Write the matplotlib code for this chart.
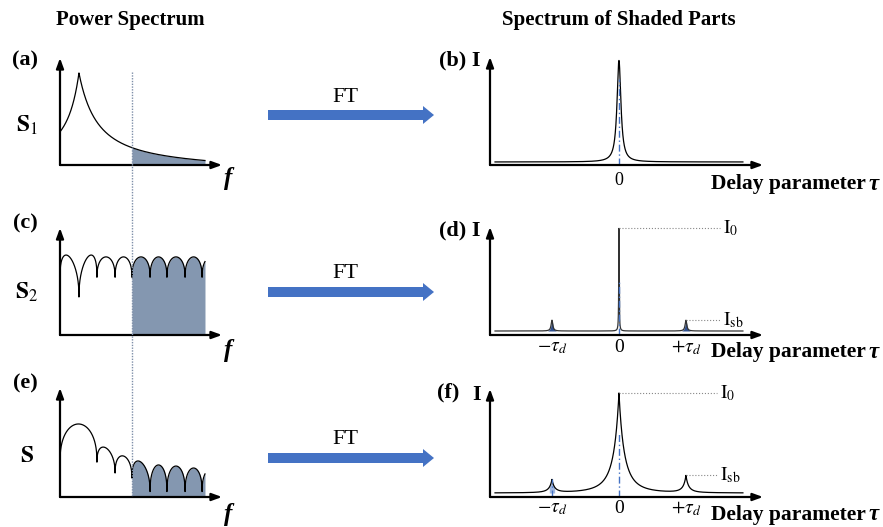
import numpy as np
import matplotlib.pyplot as plt

plt.rcParams['font.family'] = 'Liberation Serif'
plt.rcParams['mathtext.fontset'] = 'stix'

W, H = 883, 527

# ---- left column: power spectra (f in units of the x-axis length) ----
cut_f = 0.444          # start of the shaded part
end_f = 0.895          # where the drawn spectra stop

# (a) S1: one sharp peak with a slow tail
s1_peak_f = 0.117
s1_peak_h = 0.86
s1_width = [0.12, 0.17]   # left, right
s1_drop = 0.03            # extra fall-off towards the end

# (c) S2: row of arches, one deep dip
s2_dips_f = [0, 0.117, 0.228, 0.340, 0.444, 0.556, 0.660, 0.772, 0.877, 0.99]
s2_dips_v = [0.54, 0.355, 0.54, 0.54, 0.54, 0.54, 0.54, 0.54, 0.54, 0.54]
s2_tops = [0.73] * 9

# (e) S: decaying arches
s_dips_f = [0, 0.228, 0.340, 0.444, 0.556, 0.660, 0.772, 0.877, 0.99]
s_dips_v = [0.32, 0.32, 0.22, 0.174, 0.05, 0.05, 0.05, 0.05, 0.05]
s_tops = [0.67, 0.45, 0.376, 0.32, 0.294, 0.284, 0.266, 0.26]

# ---- right column: spectra of the shaded parts (tau in units of tau_d) ----
tau_d = 1.0
b_base, b_peak, b_width = 0.028, 0.94, 0.035
d_base, d_peak, d_side, d_width, d_side_width = 0.037, 0.95, 0.10, 0.004, 0.015
f_base, f_peak, f_width = 0.037, 0.926, 0.23
f_side = [0.12, 0.157]          # at -tau_d, +tau_d
f_side_width = 0.11

shade = '#8497B0'
blue = '#4472C4'


def arches(f, dips_f, dips_v, tops):
    y = np.full_like(f, np.nan)
    for i in range(len(dips_f) - 1):
        f0, f1 = dips_f[i], dips_f[i + 1]
        m = (f >= f0) & (f <= f1)
        t = (f[m] - f0) / (f1 - f0)
        lin = dips_v[i] + (dips_v[i + 1] - dips_v[i]) * t
        amp = tops[i] - (dips_v[i] + dips_v[i + 1]) / 2
        y[m] = lin + amp * np.clip(1 - (2 * t - 1) ** 2, 0, None) ** 0.42
    return y


def lor(x, x0, w):
    return w ** 2 / (w ** 2 + (x - x0) ** 2)


def cusp(x, x0, w):
    return 1 / (1 + np.abs(x - x0) / w) ** 3


def panel(x0, x1, y_top, y_bot):
    ax = fig.add_axes([x0 / W, 1 - y_bot / H, (x1 - x0) / W, (y_bot - y_top) / H])
    ax.set_axis_off()
    ap = dict(arrowstyle='-|>,head_width=0.22,head_length=0.6', lw=1.6,
              color='k', shrinkA=0, shrinkB=0)
    ax.annotate('', xy=(1, 0), xytext=(0, 0), xycoords='axes fraction', arrowprops=ap)
    ax.annotate('', xy=(0, 1), xytext=(0, 0), xycoords='axes fraction', arrowprops=ap)
    ax.set_ylim(0, 1)
    return ax


fig = plt.figure(figsize=(W / 100, H / 100), dpi=100)

f = np.union1d(np.linspace(0, end_f, 3000), s2_dips_f)
f = f[f <= end_f]
sh = f >= cut_f

# (a)
ax = panel(60, 222, 58, 165)
ax.set_xlim(0, 1)
df = f - s1_peak_f
w = np.where(df < 0, s1_width[0], s1_width[1])
s1 = s1_peak_h / (1 + np.abs(df) / w) ** 1.5 - s1_drop * np.clip(df, 0, None)
ax.fill_between(f[sh], 0, s1[sh], color=shade, lw=0)
ax.plot(f, s1, color='k', lw=0.9)

# (c)
ax = panel(60, 222, 228, 335)
ax.set_xlim(0, 1)
s2 = arches(f, s2_dips_f, s2_dips_v, s2_tops)
ax.fill_between(f[sh], 0, s2[sh], color=shade, lw=0)
ax.plot(f, s2, color='k', lw=0.9)

# (e)
ax = panel(60, 222, 388, 497)
ax.set_xlim(0, 1)
s = arches(f, s_dips_f, s_dips_v, s_tops)
ax.fill_between(f[sh], 0, s[sh], color=shade, lw=0)
ax.plot(f, s, color='k', lw=0.9)

# right column
tau = np.linspace(-1.85, 1.85, 40001)
xl = (-1.925, 2.15)
dashdot = (0, (5, 2, 1, 2))

# (b)
ax = panel(490, 763, 57, 165)
ax.set_xlim(*xl)
ib = b_base + b_peak * lor(tau, 0, b_width)
ax.plot(tau, ib, color='k', lw=0.9)
ax.plot([0, 0], [0, 0.8], color=blue, lw=1, ls=dashdot)
ax.text(0, -0.14, '0', transform=ax.get_xaxis_transform(), ha='center', va='center', fontsize=13)

# (d)
ax = panel(490, 763, 227, 335)
ax.set_xlim(*xl)
idd = (d_base + d_peak * lor(tau, 0, d_width)
       + d_side * lor(tau, -tau_d, d_side_width) + d_side * lor(tau, tau_d, d_side_width))
for c in (-tau_d, tau_d):
    m = np.abs(tau - c) < 0.06
    ax.fill_between(tau[m], d_base, idd[m], color='#2F4F8F', lw=0)
ax.plot(tau, idd, color='#333333', lw=0.9)
ax.plot([0, 0], [0, 0.5], color=blue, lw=1, ls=dashdot)
top = idd.max()
side = d_base + d_side
ax.plot([0, 1.51], [top, top], color='#888888', lw=0.8, ls=':')
ax.plot([tau_d, 1.51], [side, side], color='#888888', lw=0.8, ls=':')
ax.text(1.56, top, r'$\mathrm{I}_0$', ha='left', va='center', fontsize=14)
ax.text(1.56, side, r'$\mathrm{I}_{\mathrm{sb}}$', ha='left', va='center', fontsize=14)
for x, lab in [(-tau_d, r'$-\tau_d$'), (0, '0'), (tau_d, r'$+\tau_d$')]:
    ax.text(x, -0.12, lab, transform=ax.get_xaxis_transform(), ha='center', va='center', fontsize=14)

# (f)
ax = panel(490, 763, 389, 497)
ax.set_xlim(*xl)
iff = (f_base + f_peak * cusp(tau, 0, f_width)
       + f_side[0] * cusp(tau, -tau_d, f_side_width) + f_side[1] * cusp(tau, tau_d, f_side_width))
m = np.abs(tau + tau_d) < 0.04
ax.fill_between(tau[m], f_base, iff[m], color=blue, alpha=0.5, lw=0)
ax.plot(tau, iff, color='k', lw=0.9)
ax.plot([0, 0], [0, 0.6], color=blue, lw=1, ls=dashdot)
ax.plot([-tau_d, -tau_d], [0, iff[np.argmin(np.abs(tau + tau_d))]], color=blue, lw=1, ls=dashdot)
top = iff.max()
side = iff[np.argmin(np.abs(tau - tau_d))]
ax.plot([0, 1.46], [top, top], color='#888888', lw=0.8, ls=':')
ax.plot([tau_d, 1.46], [side, side], color='#888888', lw=0.8, ls=':')
ax.text(1.51, top, r'$\mathrm{I}_0$', ha='left', va='center', fontsize=14)
ax.text(1.51, side, r'$\mathrm{I}_{\mathrm{sb}}$', ha='left', va='center', fontsize=14)
for x, lab in [(-tau_d, r'$-\tau_d$'), (0, '0'), (tau_d, r'$+\tau_d$')]:
    ax.text(x, -0.11, lab, transform=ax.get_xaxis_transform(), ha='center', va='center', fontsize=14)

# overlay in pixel coordinates: titles, labels, FT arrows, cut line
ov = fig.add_axes([0, 0, 1, 1])
ov.set_axis_off()
ov.set_xlim(0, W)
ov.set_ylim(H, 0)

ov.plot([132, 132], [72, 497], color='#7F8FA9', lw=1, ls=(0, (1, 1)))

ov.text(130, 20, 'Power Spectrum', ha='center', va='center', fontsize=15, weight='bold')
ov.text(619, 20, 'Spectrum of Shaded Parts', ha='center', va='center', fontsize=15, weight='bold')

for y, lab in [(60, '(a)'), (223, '(c)'), (383, '(e)')]:
    ov.text(25, y, lab, ha='center', va='center', fontsize=16, weight='bold')
for y, lab in [(125, r'$\mathbf{S}_1$'), (292, r'$\mathbf{S}_2$'), (456, r'$\mathbf{S}$')]:
    ov.text(27, y, lab, ha='center', va='center', fontsize=17)
for y in [178, 350, 515]:
    ov.text(228, y, 'f', ha='center', va='center', fontsize=18, weight='bold', style='italic')

for y_arr, y_txt in [(115, 98), (292, 273), (458, 440)]:
    ov.arrow(268, y_arr, 166, 0, width=10, head_width=18, head_length=11,
             length_includes_head=True, color=blue, lw=0)
    ov.text(345, y_txt, 'FT', ha='center', va='center', fontsize=16)

ov.text(460, 60, '(b) I', ha='center', va='center', fontsize=16, weight='bold')
ov.text(460, 230, '(d) I', ha='center', va='center', fontsize=16, weight='bold')
ov.text(448, 392, '(f)', ha='center', va='center', fontsize=16, weight='bold')
ov.text(477, 395, 'I', ha='center', va='center', fontsize=16, weight='bold')

for y in [184, 352, 515]:
    ov.text(866, y, 'Delay parameter', ha='right', va='center', fontsize=15.5, weight='bold')
    ov.text(869, y, 'τ', ha='left', va='center', fontsize=16.5, weight='bold', style='italic')

fig.savefig('out.png', dpi=100)
